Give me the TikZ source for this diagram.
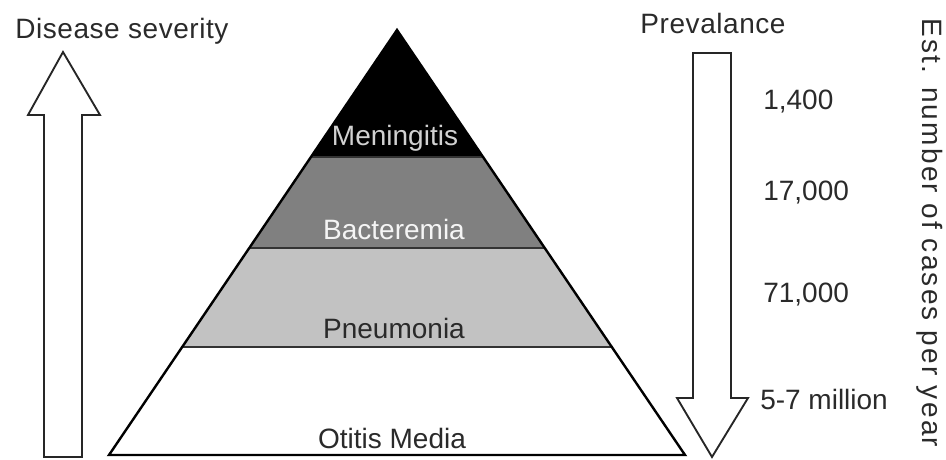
\documentclass[tikz,border=0pt]{standalone}
\usepackage{fontspec}
\setmainfont{Liberation Sans}
\usetikzlibrary{calc}
\definecolor{bandB}{HTML}{808080}
\definecolor{bandP}{HTML}{C2C2C2}
\definecolor{txtdark}{HTML}{2A2A2A}
\begin{document}
\begin{tikzpicture}[x=0.75pt,y=-0.75pt,
  lbl/.style={font=\fontsize{21}{25}\selectfont, inner sep=0pt, text=txtdark},
  bandline/.style={draw=black!80, line width=1.5pt},
  bigarrow/.style={draw=black!85, line width=1.4pt, fill=white, line join=miter}]
\useasboundingbox (0,0) rectangle (946,460);
% pyramid corners
\coordinate (apex) at (397,30);
\coordinate (bl) at (109,455);
\coordinate (br) at (685,455);
\coordinate (m1l) at ($(apex)!0.2988!(bl)$);
\coordinate (m1r) at ($(apex)!0.2988!(br)$);
\coordinate (m2l) at ($(apex)!0.513!(bl)$);
\coordinate (m2r) at ($(apex)!0.513!(br)$);
\coordinate (m3l) at ($(apex)!0.746!(bl)$);
\coordinate (m3r) at ($(apex)!0.746!(br)$);
% layers
\fill[black] (apex) -- (m1r) -- (m1l) -- cycle;
\fill[bandB] (m1l) -- (m1r) -- (m2r) -- (m2l) -- cycle;
\fill[bandP] (m2l) -- (m2r) -- (m3r) -- (m3l) -- cycle;
\fill[white] (m3l) -- (m3r) -- (br) -- (bl) -- cycle;
\draw[bandline] (m1l) -- (m1r);
\draw[bandline] (m2l) -- (m2r);
\draw[bandline] (m3l) -- (m3r);
\draw[black, line width=1.8pt, line join=miter] (apex) -- (br) -- (bl) -- cycle;
% layer labels
\node[lbl, text=black!18] (men) at (395,138) {Meningitis};
\node[lbl, text=black!4] (bac) at (394,229) {Bacteremia};
\node[lbl] (pne) at (394,328) {Pneumonia};
\node[lbl] (oti) at (392,438) {Otitis Media};
% left arrow
\draw[bigarrow] (44,457) -- (44,115) -- (28,115) -- (63,52) -- (100,115) -- (82,115) -- (82,457) -- cycle;
\node[lbl, anchor=west] (sev) at (15,31) {\addfontfeature{LetterSpace=2}Disease severity};
% right arrow
\draw[bigarrow] (693,53) -- (731,53) -- (731,398) -- (748,398) -- (712,457) -- (677,398) -- (693,398) -- cycle;
\node[lbl] (prev) at (713,23) {\addfontfeature{LetterSpace=2}Prevalance};
% numbers
\node[lbl, anchor=west] (n1) at (763,102) {1,400};
\node[lbl, anchor=west] (n2) at (763,193) {17,000};
\node[lbl, anchor=west] (n3) at (763,295) {71,000};
\node[lbl, anchor=west] (n4) at (760,399) {5-7 million};
\node[lbl, rotate=-90] (est) at (930,233) {\addfontfeature{LetterSpace=8}Est. number of cases per year};
\end{tikzpicture}
\end{document}
